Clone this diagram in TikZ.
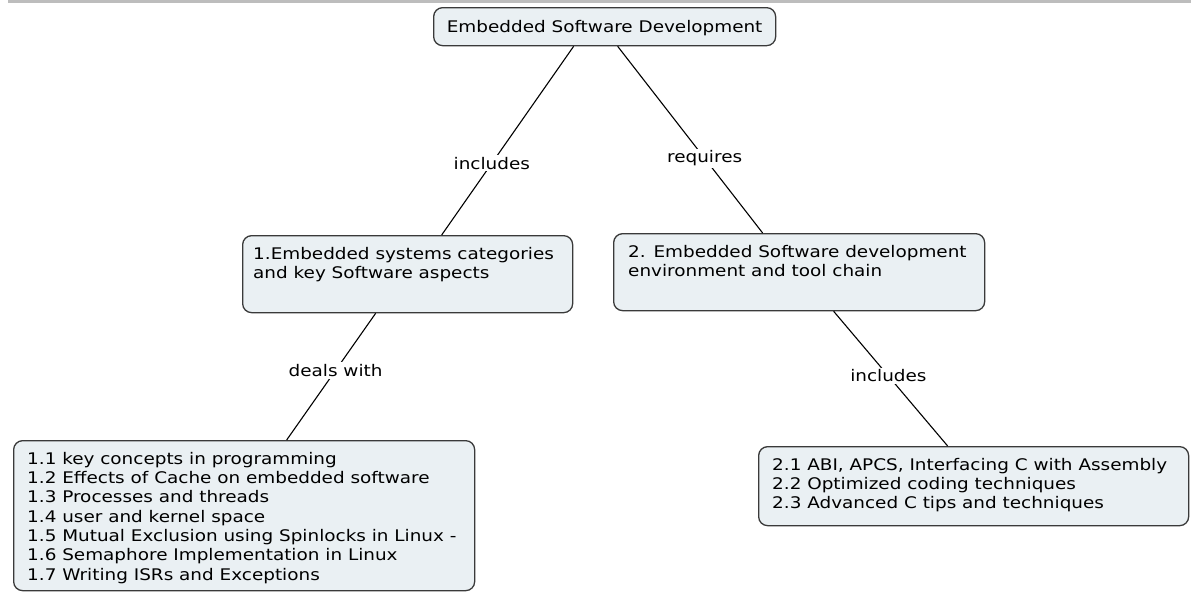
\documentclass[tikz,border=0pt]{standalone}
\usepackage{fontspec}
\setmainfont[FakeStretch=1.15]{DejaVu Sans}
\definecolor{boxfill}{HTML}{EAF0F3}
\definecolor{boxdraw}{HTML}{3A3A3A}
\definecolor{topbar}{HTML}{BDBDBD}
\tikzset{
  box/.style={draw=boxdraw, line width=1.3pt, fill=boxfill, rounded corners=9pt, inner sep=0pt, anchor=north west},
  txt/.style={anchor=north west, align=left, inner sep=0pt, font=\fontsize{16}{19.3}\selectfont},
  lbl/.style={fill=white, inner sep=2pt, font=\fontsize{16}{19}\selectfont},
  conn/.style={line width=1.1pt, draw=black}
}
\begin{document}
\begin{tikzpicture}[x=1pt,y=-1pt]
\useasboundingbox (0,0) rectangle (1191,592);
\fill[topbar] (8,0) rectangle (1191,3);
% root
\node[box, minimum width=342, minimum height=38] (root) at (433,7) {};
\node[font=\fontsize{16}{19}\selectfont, inner sep=0pt] (roottxt) at ([yshift=-1]root.center) {Embedded Software Development};
% box 1
\node[box, minimum width=330, minimum height=77] (b1) at (242,235) {};
\node[txt] (b1txt) at ([shift={(11,12)}]b1.north west) {1.Embedded systems categories\\and key Software aspects};
% box 2
\node[box, minimum width=371, minimum height=77] (b2) at (613,233) {};
\node[txt] (b2txt) at ([shift={(15,12)}]b2.north west) {2. Embedded Software development\\environment and tool chain};
% box 3
\node[box, minimum width=461, minimum height=150] (b3) at (13,440) {};
\node[txt] (b3txt) at ([shift={(14,12)}]b3.north west) {1.1 key concepts in programming\\1.2 Effects of Cache on embedded software\\1.3 Processes and threads\\1.4 user and kernel space\\1.5 Mutual Exclusion using Spinlocks in Linux -\\1.6 Semaphore Implementation in Linux\\1.7 Writing ISRs and Exceptions};
% box 4
\node[box, minimum width=430, minimum height=79] (b4) at (758,446) {};
\node[txt] (b4txt) at ([shift={(14,12)}]b4.north west) {2.1 ABI, APCS, Interfacing C with Assembly\\2.2 Optimized coding techniques\\2.3 Advanced C tips and techniques};
% connectors
\draw[conn] ([xshift=-31]root.south) -- node[lbl, pos=0.62] {includes} ([xshift=34]b1.north);
\draw[conn] ([xshift=13]root.south) -- node[lbl, pos=0.6] {requires} ([xshift=-36.5]b2.north);
\draw[conn] ([xshift=-32]b1.south) -- node[lbl, pos=0.45] {deals with} ([xshift=42.5]b3.north);
\draw[conn] ([xshift=34.5]b2.south) -- node[lbl, pos=0.48] {includes} ([xshift=-26]b4.north);
\end{tikzpicture}
\end{document}
